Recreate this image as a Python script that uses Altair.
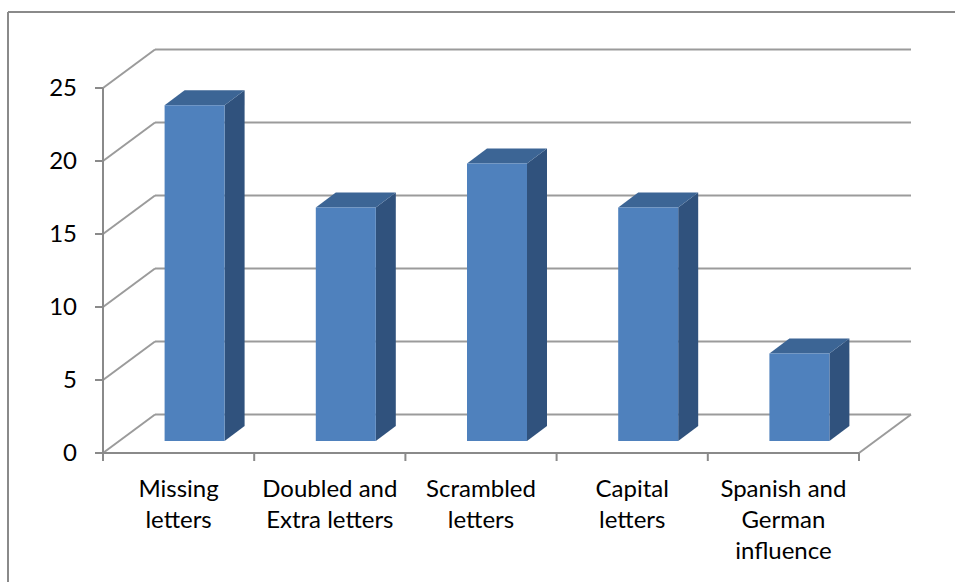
import altair as alt
import pandas as pd

# ---- data -------------------------------------------------------------
categories = [
    "Missing letters",
    "Doubled and Extra letters",
    "Scrambled letters",
    "Capital letters",
    "Spanish and German influence",
]
category_labels = [
    "Missing\nletters",
    "Doubled and\nExtra letters",
    "Scrambled\nletters",
    "Capital\nletters",
    "Spanish and\nGerman\ninfluence",
]
values = [23, 16, 19, 16, 6]
y_ticks = [0, 5, 10, 15, 20, 25]

# ---- geometry of the pseudo-3D box -------------------------------------
W, H = 955, 582
LEFT, TOP_PAD = 103, 88          # front corner of the side wall
PLOT_W, PLOT_H = 756, 365        # front face of the box
N = len(categories)
Y_MAX = 25

PX_X = PLOT_W / N        # pixels per category
PX_Y = PLOT_H / Y_MAX    # pixels per unit


def ux(px):
    return px / PX_X


def uy(px):
    return px / PX_Y


WALL_DX, WALL_DY = 52, 38.5        # depth of floor / walls
BAR_W = 60                         # width of a column's front face
BAR_SHIFT_X, BAR_SHIFT_Y = 16, 12  # columns sit half-way into the depth
BAR_DX, BAR_DY = 20, 15            # column depth
TICK = 8                           # axis tick length

x_scale = alt.Scale(domain=[0, N], nice=False, zero=False)
y_scale = alt.Scale(domain=[0, Y_MAX], nice=False, zero=False)

GRID = "#9b9b9b"
AXIS = "#8a8a8a"
FRONT = "#4f81bd"
SIDE = "#30527d"
TOP = "#3c6595"
FONT = "Lato"
FS = 24

# back-wall gridlines
back = pd.DataFrame({
    "x": [ux(WALL_DX)] * len(y_ticks),
    "x2": [N + ux(WALL_DX)] * len(y_ticks),
    "y": [v + uy(WALL_DY) for v in y_ticks],
})

# side-wall diagonals plus the right edge of the floor
diag = pd.DataFrame({
    "x": [0.0] * len(y_ticks) + [float(N)],
    "x2": [ux(WALL_DX)] * len(y_ticks) + [N + ux(WALL_DX)],
    "y": [float(v) for v in y_ticks] + [0.0],
    "y2": [v + uy(WALL_DY) for v in y_ticks] + [uy(WALL_DY)],
})

front_rows, side_rows, top_rows = [], [], []
for i, (cat, v) in enumerate(zip(categories, values)):
    c = i + 0.5
    xl = c + ux(BAR_SHIFT_X - BAR_W / 2)
    xr = c + ux(BAR_SHIFT_X + BAR_W / 2)
    y0 = uy(BAR_SHIFT_Y)
    y1 = v + uy(BAR_SHIFT_Y)
    front_rows.append({"cat": cat, "value": v, "x": xl, "x2": xr, "y": y0, "y2": y1})
    side_rows += [
        {"cat": cat, "x": xr, "top": y1, "bottom": y0},
        {"cat": cat, "x": xr + ux(BAR_DX), "top": y1 + uy(BAR_DY), "bottom": y0 + uy(BAR_DY)},
    ]
    top_rows += [
        {"cat": cat, "y": y1, "xa": xl, "xb": xr},
        {"cat": cat, "y": y1 + uy(BAR_DY), "xa": xl + ux(BAR_DX), "xb": xr + ux(BAR_DX)},
    ]
front = pd.DataFrame(front_rows)
side = pd.DataFrame(side_rows)
top = pd.DataFrame(top_rows)

labels = pd.DataFrame({
    "label": category_labels,
    "x": [i + 0.5 for i in range(N)],
    "base": [0.0] * N,
})
yt = pd.DataFrame({"v": y_ticks, "x0": [0.0] * len(y_ticks)})
xt = pd.DataFrame({"x": list(range(N + 1)), "y0": [0.0] * (N + 1)})
axes_lines = pd.DataFrame({
    "x": [0.0, 0.0], "x2": [0.0, float(N)],
    "y": [0.0, 0.0], "y2": [float(Y_MAX), 0.0],
})

X = lambda f: alt.X(f, scale=x_scale, axis=None)
Y = lambda f: alt.Y(f, scale=y_scale, axis=None)

# ---- layers -------------------------------------------------------------
# outer frame of the chart area (left and top edges)
frame_left = alt.Chart(pd.DataFrame({"k": [0]})).mark_rule(
    color=AXIS, strokeWidth=2
).encode(x=alt.value(8 - LEFT), y=alt.value(12 - TOP_PAD), y2=alt.value(H - TOP_PAD))
frame_top = alt.Chart(pd.DataFrame({"k": [0]})).mark_rule(
    color=AXIS, strokeWidth=2
).encode(x=alt.value(8 - LEFT), x2=alt.value(W - LEFT), y=alt.value(12 - TOP_PAD))

back_grid = alt.Chart(back).mark_rule(color=GRID, strokeWidth=2).encode(
    x=X("x:Q"), x2="x2:Q", y=Y("y:Q"),
)

side_grid = alt.Chart(diag).mark_rule(color=GRID, strokeWidth=2).encode(
    x=X("x:Q"), x2="x2:Q", y=Y("y:Q"), y2="y2:Q",
)

# front axes: value axis on the left, category axis along the floor
axis_domain = alt.Chart(axes_lines).mark_rule(color=AXIS, strokeWidth=2).encode(
    x=X("x:Q"), x2="x2:Q", y=Y("y:Q"), y2="y2:Q",
)
y_tick_marks = alt.Chart(yt).mark_rule(
    color=AXIS, strokeWidth=2, x2Offset=-TICK
).encode(x=X("x0:Q"), x2="x0:Q", y=Y("v:Q"))
y_tick_labels = alt.Chart(yt).mark_text(
    align="right", baseline="middle", dx=-26, dy=1,
    font=FONT, fontSize=FS, color="#000000",
).encode(x=X("x0:Q"), y=Y("v:Q"), text="v:Q")
x_tick_marks = alt.Chart(xt).mark_rule(
    color=AXIS, strokeWidth=2, y2Offset=TICK
).encode(x=X("x:Q"), y=Y("y0:Q"), y2="y0:Q")

bar_front = alt.Chart(front).mark_rect(color=FRONT).encode(
    x=X("x:Q"), x2="x2:Q", y=Y("y:Q"), y2="y2:Q",
    tooltip=["cat:N", "value:Q"],
)

bar_side = alt.Chart(side).mark_area(color=SIDE).encode(
    x=X("x:Q"), y=Y("top:Q"), y2="bottom:Q", detail="cat:N",
)

bar_top = alt.Chart(top).mark_area(color=TOP, orient="horizontal").encode(
    y=Y("y:Q"), x=X("xa:Q"), x2="xb:Q", detail="cat:N",
)

cat_text = alt.Chart(labels).mark_text(
    lineBreak="\n", align="center", baseline="alphabetic", dy=44,
    font=FONT, fontSize=FS, lineHeight=31, color="#000000",
).encode(x=X("x:Q"), y=Y("base:Q"), text="label:N")

chart = alt.layer(
    frame_left, frame_top, back_grid, side_grid,
    axis_domain, y_tick_marks, x_tick_marks, y_tick_labels,
    bar_side, bar_top, bar_front, cat_text,
).properties(
    width=PLOT_W, height=PLOT_H,
    autosize=alt.AutoSizeParams(type="none"),
    padding={"left": LEFT, "top": TOP_PAD,
             "right": W - LEFT - PLOT_W, "bottom": H - TOP_PAD - PLOT_H},
    background="#ffffff",
).configure_view(stroke=None)

chart.save("out.html", embed_options={"renderer": "svg", "actions": False})
